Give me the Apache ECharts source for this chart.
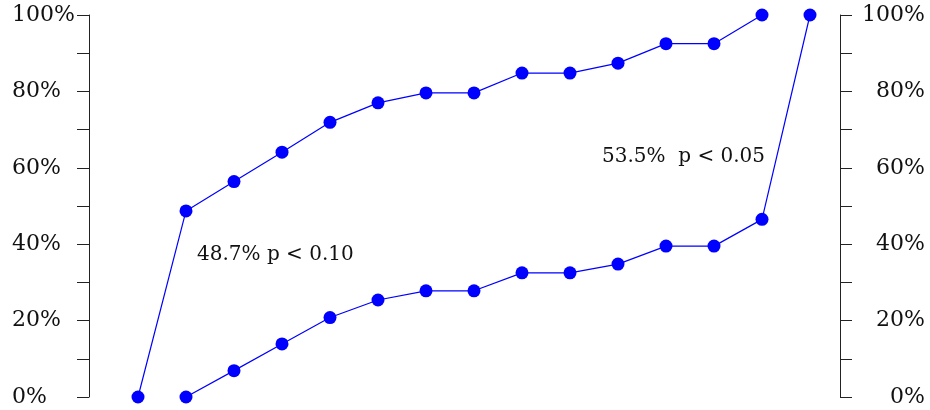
<!DOCTYPE html>
<html>
<head>
<meta charset="utf-8">
<script src="https://cdn.jsdelivr.net/npm/echarts@6/dist/echarts.min.js"></script>
<style>
  html, body { margin: 0; padding: 0; background: #fff; }
  #chart { width: 930px; height: 410px; }
</style>
</head>
<body>
<div id="chart"></div>
<script>
// Step positions along the horizontal axis
const steps = [0, 1, 2, 3, 4, 5, 6, 7, 8, 9, 10, 11, 12, 13, 14];

// Upper curve: occupies steps 0..13
const upperValues = [0, 48.7, 56.4, 64.1, 71.9, 77.0, 79.6, 79.6, 84.8, 84.8, 87.4, 92.5, 92.5, 100];
// Lower curve: occupies steps 1..14
const lowerValues = [0, 6.9, 13.9, 20.8, 25.4, 27.8, 27.8, 32.5, 32.5, 34.8, 39.5, 39.5, 46.5, 100];

const yTicks = [0, 20, 40, 60, 80, 100];

const noteLeft = '48.7% p < 0.10';
const noteRight = '53.5%  p < 0.05';

const upperData = upperValues.map((v, i) => [steps[i], v]);
const lowerData = lowerValues.map((v, i) => [steps[i + 1], v]);

const FONT = '"DejaVu Serif", "Liberation Serif", serif';
const BLUE = '#0000ff';

// Left labels are flush with the page's left margin, right labels with its right margin
function yAxis(position) {
  const left = position === 'left';
  return {
    type: 'value',
    position: position,
    min: 0,
    max: 100,
    interval: 10,
    axisLine: { show: true, onZero: false, lineStyle: { color: '#222', width: 1 } },
    axisTick: { show: true, inside: false, length: 12, lineStyle: { color: '#222', width: 1 } },
    splitLine: { show: false },
    axisLabel: {
      margin: left ? 77 : 85,
      align: left ? 'left' : 'right',
      color: '#111',
      fontFamily: FONT,
      fontSize: 22,
      formatter: v => (yTicks.indexOf(v) >= 0 ? v + '%' : '')
    }
  };
}

const chart = echarts.init(document.getElementById('chart'));
chart.setOption({
  animation: false,
  backgroundColor: '#fff',
  grid: { left: 89, right: 90, top: 15, bottom: 13 },
  xAxis: {
    type: 'value',
    min: -49 / 48,
    max: 14 + 30 / 48,
    show: false
  },
  yAxis: [yAxis('left'), yAxis('right')],
  series: [
    {
      type: 'line',
      data: upperData,
      symbol: 'circle',
      symbolSize: 13,
      itemStyle: { color: BLUE },
      lineStyle: { color: BLUE, width: 1.2 }
    },
    {
      type: 'line',
      data: lowerData,
      symbol: 'circle',
      symbolSize: 13,
      itemStyle: { color: BLUE },
      lineStyle: { color: BLUE, width: 1.2 }
    }
  ],
  graphic: [
    {
      type: 'text',
      left: 197,
      top: 245,
      style: { text: noteLeft, fill: '#111', font: '20px ' + FONT }
    },
    {
      type: 'text',
      left: 602,
      top: 147,
      style: { text: noteRight, fill: '#111', font: '20px ' + FONT }
    }
  ]
});
</script>
</body>
</html>
